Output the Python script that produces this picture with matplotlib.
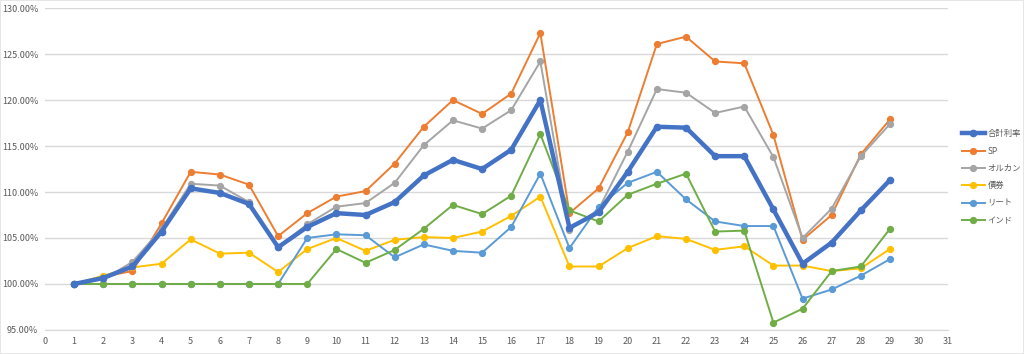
import matplotlib
matplotlib.use("Agg")
from matplotlib import pyplot as plt
from matplotlib.ticker import FuncFormatter, MultipleLocator
import numpy as np

plt.rcParams['font.family'] = ['Noto Sans CJK JP', 'DejaVu Sans']

months = list(range(1, 30))

total = [100.0, 100.65, 101.9, 105.7, 110.4, 109.9, 108.7, 104.0, 106.2, 107.7,
         107.5, 108.9, 111.8, 113.5, 112.5, 114.6, 120.0, 106.1, 107.8, 112.2,
         117.1, 117.0, 113.9, 113.9, 108.1, 102.2, 104.5, 108.0, 111.3]
sp = [100.0, 100.8, 101.4, 106.6, 112.2, 111.9, 110.8, 105.2, 107.7, 109.5,
      110.1, 113.1, 117.1, 120.0, 118.5, 120.7, 127.3, 107.7, 110.4, 116.5,
      126.1, 126.9, 124.2, 124.0, 116.2, 104.8, 107.5, 114.1, 117.9]
orukan = [100.0, 100.5, 102.4, 106.0, 110.9, 110.7, 108.9, 104.0, 106.5, 108.4,
          108.8, 111.0, 115.1, 117.8, 116.9, 118.9, 124.2, 105.9, 108.1, 114.4,
          121.2, 120.8, 118.6, 119.3, 113.8, 105.0, 108.2, 113.9, 117.4]
bond = [100.0, 100.9, 101.8, 102.2, 104.85, 103.3, 103.4, 101.3, 103.8, 105.0,
        103.6, 104.8, 105.1, 105.0, 105.7, 107.4, 109.5, 101.9, 101.9, 103.9,
        105.2, 104.9, 103.7, 104.1, 102.0, 102.0, 101.4, 101.7, 103.8]
reit = [100.0, 100.0, 100.0, 100.0, 100.0, 100.0, 100.0, 100.0, 105.0, 105.4,
        105.3, 102.9, 104.3, 103.6, 103.4, 106.2, 112.0, 103.9, 108.4, 111.0,
        112.2, 109.2, 106.8, 106.3, 106.3, 98.4, 99.4, 100.9, 102.7]
india = [100.0, 100.0, 100.0, 100.0, 100.0, 100.0, 100.0, 100.0, 100.0, 103.8,
         102.3, 103.7, 106.0, 108.6, 107.6, 109.6, 116.3, 108.0, 106.8, 109.7,
         110.9, 112.0, 105.7, 105.8, 95.8, 97.3, 101.4, 101.9, 106.0]

labels = ['合計利率', 'SP', 'オルカン', '債券', 'リート', 'インド']
series = [total, sp, orukan, bond, reit, india]
colors = ['#4472C4', '#ED7D31', '#A5A5A5', '#FFC000', '#5B9BD5', '#70AD47']
widths = [3.2, 1.4, 1.4, 1.4, 1.4, 1.4]

fig = plt.figure(figsize=(10.24, 3.54), dpi=100)
fig.patch.set_edgecolor('#E6E6E6')
fig.patch.set_linewidth(1.2)
ax = fig.add_axes([0.044, 0.068, 0.882, 0.909])

# total drawn last so it sits on top
draw_order = [1, 2, 3, 4, 5, 0]
lines = {}
for i in draw_order:
    ln, = ax.plot(months, series[i], color=colors[i], lw=widths[i],
                  marker='o', ms=4.2 if i else 4.5, label=labels[i], zorder=3 + (i == 0))
    lines[i] = ln

ax.set_xlim(0, 31)
ax.set_ylim(95, 130)
ax.xaxis.set_major_locator(MultipleLocator(1))
ax.yaxis.set_major_locator(MultipleLocator(5))
ax.yaxis.set_major_formatter(FuncFormatter(lambda v, p: '%.2f%%' % v))
ax.grid(axis='y', color='#D9D9D9', lw=1)
ax.set_axisbelow(True)
for s in ['top', 'right', 'left']:
    ax.spines[s].set_visible(False)
ax.spines['bottom'].set_color('#D9D9D9')
ax.tick_params(axis='both', length=0, labelsize=6.5, colors='#595959', pad=5)

fig.legend([lines[i] for i in range(6)], labels, loc='center left',
           bbox_to_anchor=(0.939, 0.5), frameon=False, fontsize=6,
           handlelength=2.8, labelspacing=1.0, handletextpad=0.3,
           borderpad=0, borderaxespad=0, labelcolor='#595959')

fig.savefig('out.png', dpi=100)
